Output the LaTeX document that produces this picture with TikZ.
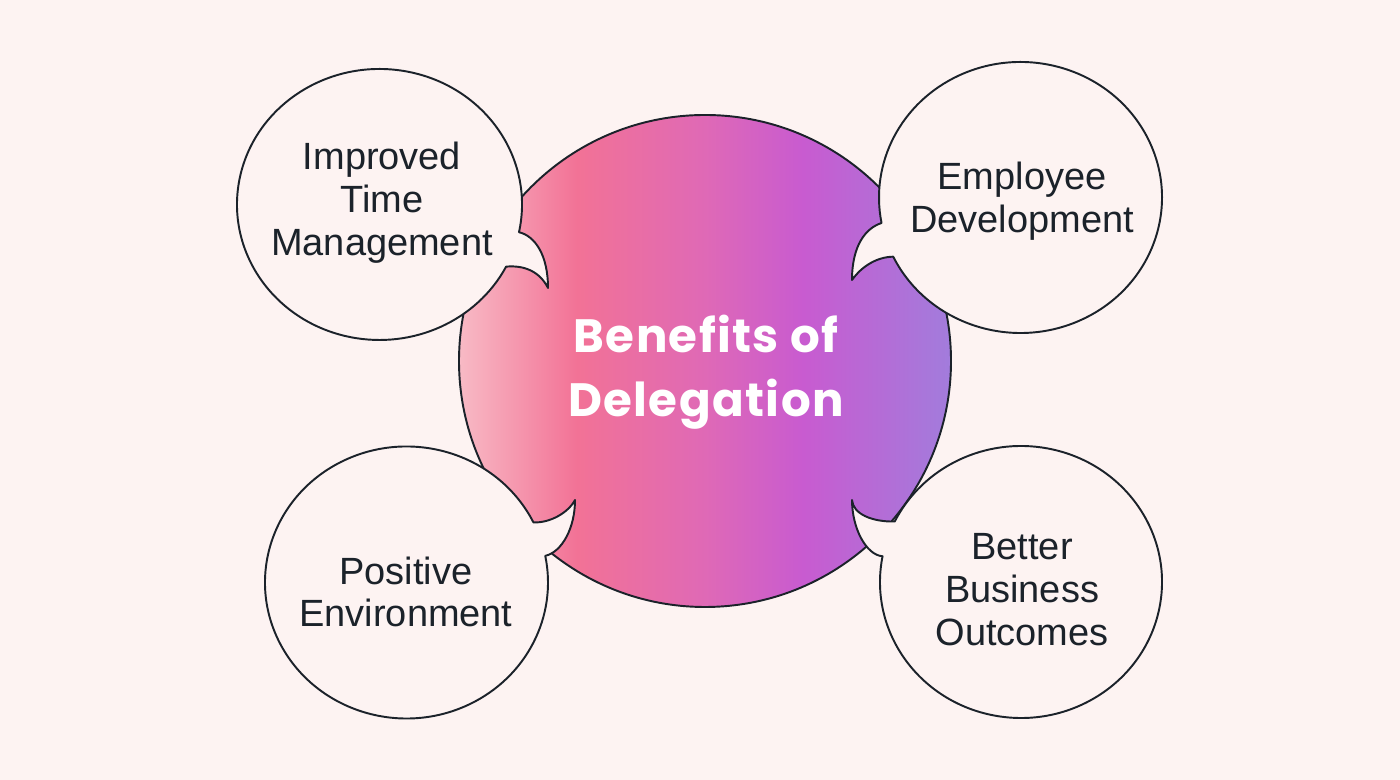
\documentclass[tikz,border=0pt]{standalone}
\usepackage{fontspec}
\newfontfamily\bubblefont{Liberation Sans}
\newfontfamily\titlefont{Poppins}[LetterSpace=3]
\usepackage{tikz}
\usetikzlibrary{calc}

\definecolor{paper}{HTML}{FDF3F2}
\definecolor{ink}{HTML}{1B222A}
\definecolor{pinkA}{HTML}{F8BAC5}
\definecolor{pinkB}{HTML}{F27296}
\definecolor{pinkC}{HTML}{DF69B6}
\definecolor{violA}{HTML}{C85BD0}
\definecolor{violB}{HTML}{A27CDC}

\pgfdeclarehorizontalshading{delegation}{100bp}{%
  color(0bp)=(pinkA); color(25bp)=(pinkA); color(37bp)=(pinkB);
  color(50bp)=(pinkC); color(60bp)=(violA); color(75bp)=(violB);
  color(100bp)=(violB)}

\tikzset{
  core/.style={circle, minimum size=4.92cm, inner sep=0pt, shading=delegation, draw=ink, line width=0.55pt},
  bubble/.style={draw=ink, fill=paper, line width=0.55pt, line join=round},
  bubbletext/.style={text=ink, align=center, font=\bubblefont\fontsize{10.8}{12.2}\selectfont},
  titletext/.style={text=white, align=center, font=\titlefont\bfseries\fontsize{13.3}{18.2}\selectfont}
}

\begin{document}
\begin{tikzpicture}
        \fill[paper] (0,0) rectangle (14,7.8);
        \useasboundingbox (0,0) rectangle (14,7.8);

        \node[core] (core) at (7.05,4.19) {};

        % top left
        \coordinate (tl) at (3.795,5.755);
        \draw[bubble] (tl) ++(-11.8:1.425 and 1.355) coordinate (tl-a)
            arc[start angle=-11.8, end angle=332.7, x radius=1.425, y radius=1.355]
            .. controls (5.25,5.15) and (5.40,5.08) .. (5.48,4.92)
            .. controls (5.48,5.25) and (5.35,5.44) .. (tl-a) -- cycle;
        % top right
        \coordinate (tr) at (10.205,5.825);
        \draw[bubble] (tr) ++(205.9:1.415 and 1.355) coordinate (tr-a)
            arc[start angle=205.9, end angle=550.85, x radius=1.415, y radius=1.355]
            .. controls (8.66,5.52) and (8.52,5.35) .. (8.52,5.00)
            .. controls (8.62,5.14) and (8.77,5.23) .. (tr-a) -- cycle;
        % bottom left
        \coordinate (bl) at (4.065,1.975);
        \draw[bubble] (bl) ++(26.2:1.415 and 1.36) coordinate (bl-a)
            arc[start angle=26.2, end angle=371.3, x radius=1.415, y radius=1.36]
            .. controls (5.62,2.28) and (5.75,2.52) .. (5.75,2.80)
            .. controls (5.68,2.67) and (5.50,2.57) .. (bl-a) -- cycle;
        % bottom right
        \coordinate (br) at (10.21,1.98);
        \draw[bubble] (br) ++(169.1:1.41 and 1.36) coordinate (br-a)
            arc[start angle=169.1, end angle=513.6, x radius=1.41, y radius=1.36]
            .. controls (8.72,2.58) and (8.53,2.66) .. (8.52,2.80)
            .. controls (8.52,2.52) and (8.66,2.25) .. (br-a) -- cycle;

        \node[titletext] (title) at (7.06,4.08) {Benefits of\\Delegation};

        \node[bubbletext] (time) at (3.82,5.77) {Improved\\Time\\Management};
        \node[bubbletext] (staff) at (10.22,5.79) {Employee\\Development};
        \node[bubbletext] (mood) at (4.06,1.88) {Positive\\Environment};
        \node[bubbletext] (gain) at (10.22,1.90) {Better\\Business\\Outcomes};
    \end{tikzpicture}
\end{document}
